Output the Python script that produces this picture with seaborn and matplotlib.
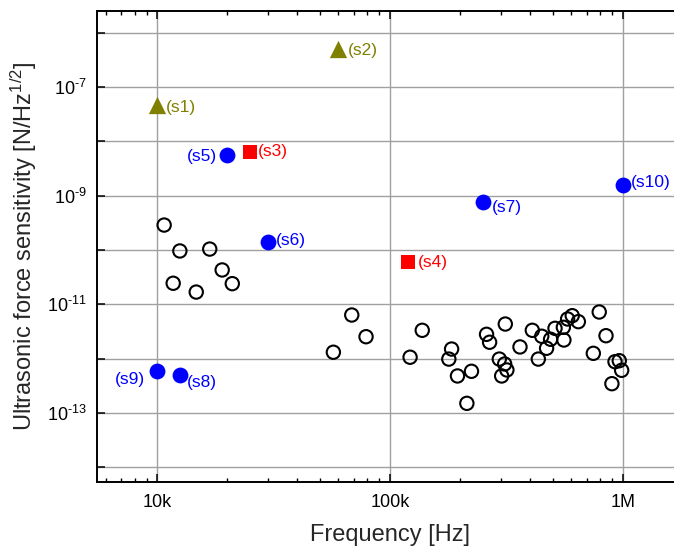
import numpy as np
import pandas as pd
import seaborn as sns
import matplotlib.pyplot as plt
from matplotlib.ticker import FixedLocator, FixedFormatter, FuncFormatter, LogLocator, NullFormatter, NullLocator

# open circles (unlabelled reports)
open_freq = [10.7e3, 12.5e3, 16.8e3, 19.0e3, 11.7e3, 14.7e3, 21.0e3,
             57.1e3, 68.5e3, 78.9e3, 137.6e3, 122e3, 184e3, 179e3, 195e3,
             224e3, 214e3, 260e3, 268e3, 313e3, 295e3, 311e3, 302e3, 318e3,
             362e3, 409e3, 434e3, 449e3, 471e3, 490e3, 512e3, 556e3, 559e3,
             580e3, 607e3, 645e3, 793e3, 748e3, 848e3, 927e3, 967e3, 990e3, 899e3]
open_sens = [2.88e-10, 9.6e-11, 1.04e-10, 4.29e-11, 2.44e-11, 1.68e-11, 2.4e-11,
             1.31e-12, 6.35e-12, 2.53e-12, 3.32e-12, 1.06e-12, 1.50e-12, 9.8e-13, 4.79e-13,
             5.84e-13, 1.50e-13, 2.80e-12, 2.0e-12, 4.33e-12, 9.8e-13, 7.96e-13, 4.79e-13, 6.17e-13,
             1.64e-12, 3.32e-12, 9.8e-13, 2.58e-12, 1.55e-12, 2.27e-12, 3.61e-12, 3.77e-12, 2.20e-12,
             5.36e-12, 6.17e-12, 4.79e-12, 7.21e-12, 1.25e-12, 2.64e-12, 8.77e-13, 9.15e-13, 6.09e-13, 3.45e-13]

tri_names = ['(s1)', '(s2)']
tri_freq = [1.0e4, 6.0e4]
tri_sens = [4.7e-8, 5.0e-7]

sq_names = ['(s3)', '(s4)']
sq_freq = [2.5e4, 1.2e5]
sq_sens = [6.45e-9, 5.9e-11]

blue_names = ['(s5)', '(s6)', '(s7)', '(s8)', '(s9)', '(s10)']
blue_freq = [2.0e4, 3.0e4, 2.5e5, 1.25e4, 1.0e4, 1.0e6]
blue_sens = [5.5e-9, 1.39e-10, 7.7e-10, 5.05e-13, 6.0e-13, 1.57e-9]

x_ticks = [1e4, 1e5, 1e6]
x_tick_labels = ['10k', '100k', '1M']

# label offsets in pixels (dx, dy, ha)
offsets = {'(s1)': (9, -3, 'left'), '(s2)': (10, -1, 'left'),
           '(s3)': (8, 0, 'left'), '(s4)': (9, 0, 'left'),
           '(s5)': (-10, -1, 'right'), '(s6)': (8, 2, 'left'),
           '(s7)': (9, -6, 'left'), '(s8)': (7, -8, 'left'),
           '(s9)': (-12, -9, 'right'), '(s10)': (8, 3, 'left')}

sns.set_style("white")
plt.rcParams['font.family'] = ['Liberation Sans', 'DejaVu Sans']
plt.rcParams['mathtext.fontset'] = 'custom'
plt.rcParams['mathtext.rm'] = 'Liberation Sans'
plt.rcParams['mathtext.it'] = 'Liberation Sans:italic'
plt.rcParams['axes.unicode_minus'] = False

fig = plt.figure(figsize=(6.74, 5.5), dpi=100)
ax = fig.add_axes([0.1435, 0.1242, 0.8565, 0.8558])

sns.scatterplot(x=open_freq, y=open_sens, ax=ax, marker='o', s=92,
                facecolor='none', edgecolor='black', linewidth=1.5, zorder=3)
sns.scatterplot(x=tri_freq, y=tri_sens, ax=ax, marker='^', s=155,
                color='#808000', linewidth=0, zorder=3)
sns.scatterplot(x=sq_freq, y=sq_sens, ax=ax, marker='s', s=100,
                color='#ff0000', linewidth=0, zorder=3)
sns.scatterplot(x=blue_freq, y=blue_sens, ax=ax, marker='o', s=130,
                color='#0000ff', linewidth=0, zorder=3)

for names, fr, se, col in [(tri_names, tri_freq, tri_sens, '#808000'),
                           (sq_names, sq_freq, sq_sens, '#ff0000'),
                           (blue_names, blue_freq, blue_sens, '#0000ff')]:
    for n, f, s in zip(names, fr, se):
        dx, dy, ha = offsets[n]
        ax.annotate(n, (f, s), xytext=(dx * 0.72, dy * 0.72), textcoords='offset points',
                    ha=ha, va='center', color=col, fontsize=12.5)

ax.set_xscale('log')
ax.set_yscale('log')
ax.set_xlim(5490, 1.662e6)
ax.set_ylim(5.41e-15, 2.52e-6)

ax.xaxis.set_major_locator(FixedLocator(x_ticks))
ax.xaxis.set_major_formatter(FixedFormatter(x_tick_labels))
ax.xaxis.set_minor_locator(LogLocator(base=10, subs=np.arange(2, 10)))
ax.xaxis.set_minor_formatter(NullFormatter())

ax.yaxis.set_major_locator(FixedLocator([10.0 ** e for e in range(-14, -5)]))
ax.yaxis.set_major_formatter(FuncFormatter(
    lambda v, p: r"$10^{\text{-}%d}$" % -int(round(np.log10(v))) if int(round(np.log10(v))) % 2 else ""))
ax.yaxis.set_minor_locator(NullLocator())

ax.set_axisbelow(True)
ax.grid(True, which='major', color='#a0a0a0', linewidth=1.0)

ax.tick_params(which='both', direction='in', top=True, right=False, bottom=True, left=True,
               labelsize=13, colors='black')
ax.tick_params(which='major', length=6, width=1.1)
ax.tick_params(axis='x', which='major', pad=9)
ax.tick_params(axis='y', which='major', pad=7)
ax.tick_params(which='minor', length=3, width=1.0)

for sp in ['left', 'bottom', 'top']:
    ax.spines[sp].set_linewidth(1.4)
    ax.spines[sp].set_color('black')
ax.spines['right'].set_visible(False)

ax.set_xlabel('Frequency [Hz]', fontsize=17)
ax.set_ylabel(r'Ultrasonic force sensitivity [N/Hz$^{1/2}$]', fontsize=17)
ax.xaxis.set_label_coords(0.508, -0.09)
ax.yaxis.set_label_coords(-0.10, 0.5)

fig.savefig('out.png', dpi=100)
